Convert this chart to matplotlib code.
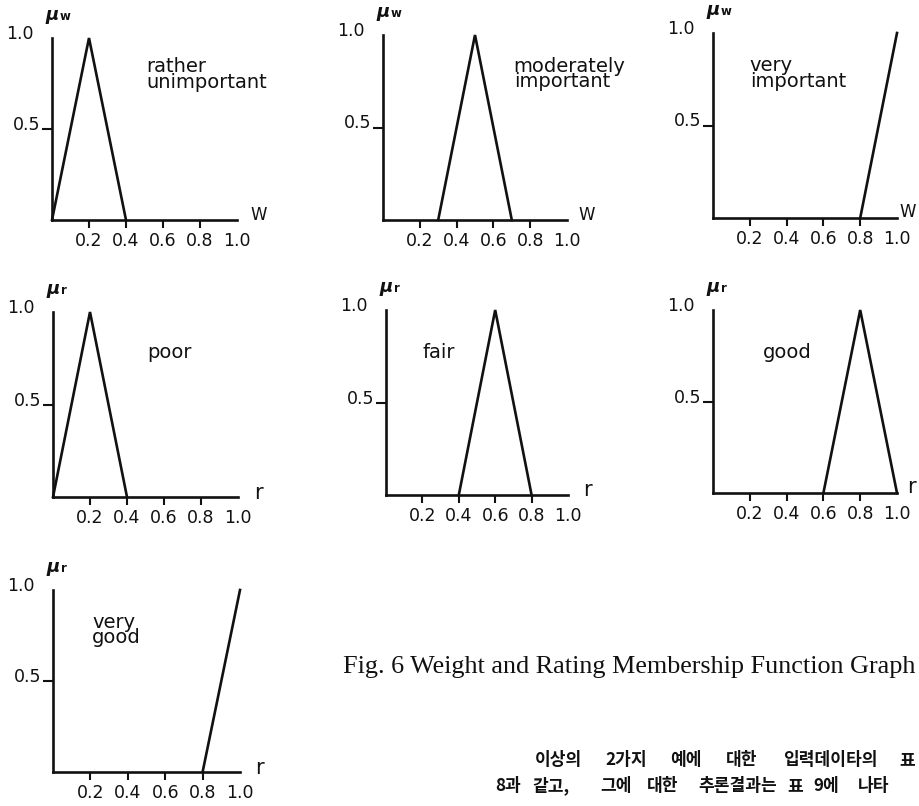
import matplotlib
matplotlib.use("Agg")
import matplotlib.pyplot as plt

# ---------------- data ----------------
weight_terms = ["rather\nunimportant", "moderately\nimportant", "very\nimportant"]
weight_x = [[0.0, 0.2, 0.4], [0.3, 0.5, 0.7], [0.8, 1.0]]
weight_mu = [[0, 1, 0], [0, 1, 0], [0, 1]]

rating_terms = ["poor", "fair", "good", "very\ngood"]
rating_x = [[0.0, 0.2, 0.4], [0.4, 0.6, 0.8], [0.6, 0.8, 1.0], [0.8, 1.0]]
rating_mu = [[0, 1, 0], [0, 1, 0], [0, 1, 0], [0, 1]]

x_ticks = [0.2, 0.4, 0.6, 0.8, 1.0]
x_tick_labels = ["0.2", "0.4", "0.6", "0.8", "1.0"]
y_ticks = [0.5, 1.0]
y_tick_labels = ["0.5", "1.0"]

caption = "Fig. 6 Weight and Rating Membership Function Graph"
body_line1 = ["이상의", "2가지", "예에", "대한", "입력데이타의", "표"]
body_line2 = ["8과", "같고,", "그에", "대한", "추론결과는", "표", "9에", "나타"]

# ---------------- layout ----------------
W, H = 919, 806
fig = plt.figure(figsize=(W / 100, H / 100), dpi=100)
fig.patch.set_facecolor("white")

INK = "#111111"
LW = 1.9

# (x0, x1, ytop, ybot) in pixels, label pos (axes data), subscript, axis name, name offset
panels = [
    ((52, 237, 38, 220), weight_x[0], weight_mu[0], weight_terms[0], (0.51, 0.80), "w", "W", (13, 0)),
    ((383, 567, 35, 220), weight_x[1], weight_mu[1], weight_terms[1], (0.71, 0.79), "w", "W", (11, 0)),
    ((713, 897, 33, 218), weight_x[2], weight_mu[2], weight_terms[2], (0.20, 0.78), "w", "W", (2, 1)),
    ((53, 238, 312, 497), rating_x[0], rating_mu[0], rating_terms[0], (0.51, 0.78), "r", "r", (16, -2)),
    ((386, 568, 310, 495), rating_x[1], rating_mu[1], rating_terms[1], (0.20, 0.77), "r", "r", (15, -1)),
    ((713, 897, 310, 493), rating_x[2], rating_mu[2], rating_terms[2], (0.27, 0.77), "r", "r", (10, 0)),
    ((53, 240, 590, 772), rating_x[3], rating_mu[3], rating_terms[3], (0.21, 0.78), "r", "r", (15, -2)),
]

for (x0, x1, yt, yb), xs, mus, term, (tx, ty), sub, axname, (nx, ny) in panels:
    ax = fig.add_axes([x0 / W, 1 - yb / H, (x1 - x0) / W, (yb - yt) / H])
    ax.set_xlim(0, 1.0)
    ax.set_ylim(0, 1.0)
    ax.patch.set_alpha(0)
    for s in ("top", "right"):
        ax.spines[s].set_visible(False)
    for s in ("left", "bottom"):
        ax.spines[s].set_linewidth(LW)
        ax.spines[s].set_color(INK)

    ax.plot(xs, mus, color=INK, lw=LW, clip_on=False, solid_joinstyle="miter")

    # x ticks
    ax.set_xticks(x_ticks)
    ax.set_xticklabels(x_tick_labels, fontsize=12.5, color=INK, family="DejaVu Sans")
    ax.tick_params(axis="x", direction="out", length=5.5, width=1.5, pad=3, color=INK)
    ax.xaxis.get_major_ticks()[-1].tick1line.set_visible(False)

    # y ticks
    ax.set_yticks([y_ticks[0]])
    ax.set_yticklabels([""])
    ax.tick_params(axis="y", direction="out", length=7, width=1.5, color=INK)
    ax.annotate(y_tick_labels[0], xy=(0, y_ticks[0]), xycoords="data",
                xytext=(-12, -1), textcoords="offset pixels",
                ha="right", va="baseline", fontsize=12.5, color=INK)
    ax.annotate(y_tick_labels[1], xy=(0, y_ticks[1]), xycoords="data",
                xytext=(-18, -1), textcoords="offset pixels",
                ha="right", va="baseline", fontsize=12.5, color=INK)

    # mu label
    ax.annotate("μ", xy=(0, 1), xycoords="axes fraction", xytext=(-7, 18),
                textcoords="offset pixels", ha="left", va="baseline",
                fontsize=13, style="italic", weight="bold", color=INK)
    ax.annotate(sub, xy=(0, 1), xycoords="axes fraction", xytext=(8, 18),
                textcoords="offset pixels", ha="left", va="baseline",
                fontsize=8.5, weight="bold", color=INK)

    # axis name
    ax.annotate(axname, xy=(1, 0), xycoords="axes fraction",
                xytext=(nx, ny), textcoords="offset pixels", ha="left", va="baseline",
                fontsize=12 if axname == "W" else 15, color=INK)

    # term label
    ax.text(tx, ty, term, ha="left", va="center", fontsize=14,
            linespacing=0.78, color=INK)

# caption
fig.text(343 / W, 1 - 673 / H, caption, ha="left", va="baseline",
         fontsize=18.8, family="Liberation Serif", color=INK)

# Korean body text
line1_x = [535, 605, 670, 726, 783, 899]
line2_x = [495, 532, 600, 647, 698, 787, 813, 858]
for word, px in zip(body_line1, line1_x):
    fig.text(px / W, 1 - 765 / H, word, ha="left", va="baseline", fontsize=12.3,
             family=["Noto Sans CJK KR", "DejaVu Sans"], weight="bold", color=INK)
for word, px in zip(body_line2, line2_x):
    fig.text(px / W, 1 - 791 / H, word, ha="left", va="baseline", fontsize=12.3,
             family=["Noto Sans CJK KR", "DejaVu Sans"], weight="bold", color=INK)

fig.savefig("out.png", dpi=100, facecolor="white")
